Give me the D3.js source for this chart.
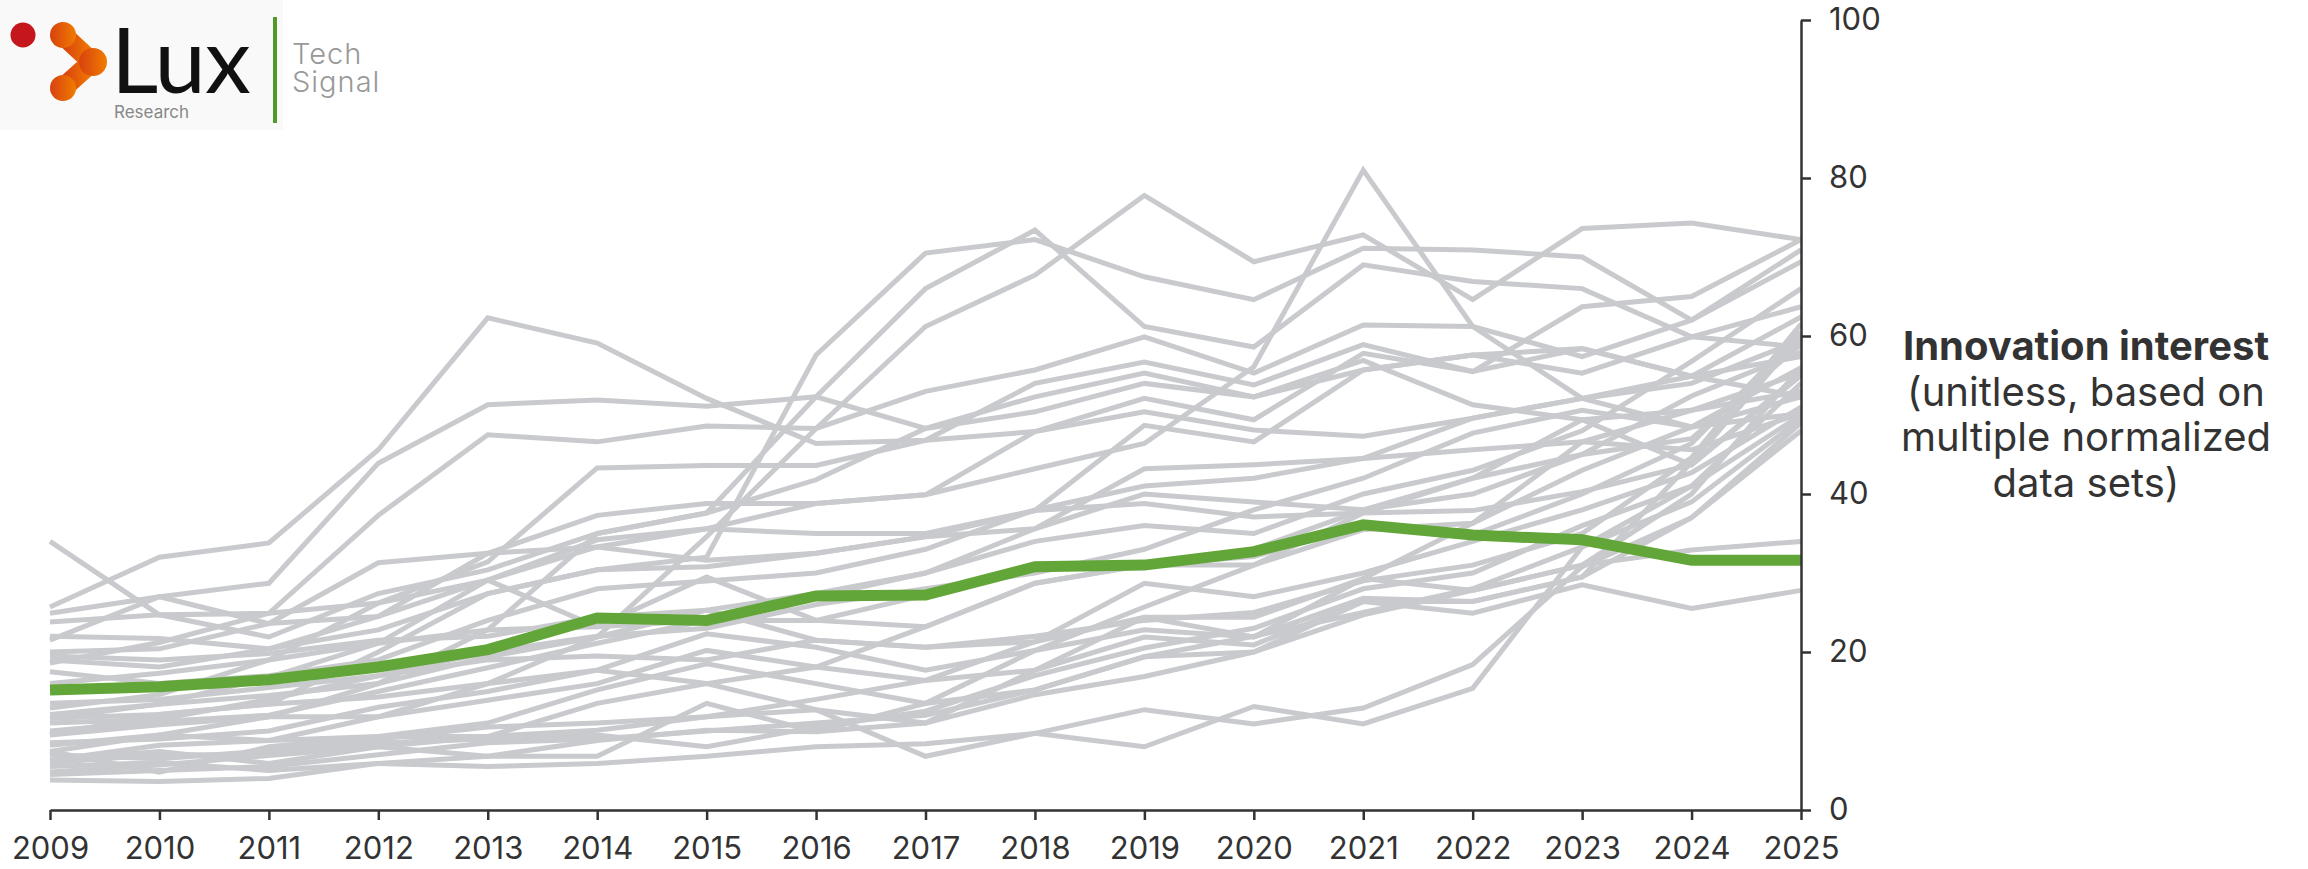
<!DOCTYPE html>
<html>
<head>
<meta charset="utf-8">
<script src="https://cdn.jsdelivr.net/npm/d3@7"></script>
<style>
    body { margin: 0; background: #fff; }
    svg text { font-family: Inter, "Noto Sans", sans-serif; fill: #333; }
</style>
</head>
<body>
<div id="chart"></div>
<script>

// years on the x axis
const years = [2009, 2010, 2011, 2012, 2013, 2014, 2015, 2016, 2017, 2018, 2019, 2020, 2021, 2022, 2023, 2024, 2025];

// highlighted tech (green)
const highlightValues = [15.2, 15.6, 16.5, 18.1, 20.3, 24.3, 24.0, 27.1, 27.2, 30.8, 31.0, 32.7, 36.1, 34.8, 34.2, 31.6, 31.6];

// all other techs (grey)
const otherSeries = [
    [25.7, 32.0, 33.8, 45.6, 62.3, 59.1, 52.1, 46.4, 46.8, 47.9, 52.1, 49.4, 57.8, 55.5, 58.4, 54.9, 62.4],
    [24.9, 27.0, 28.7, 43.9, 51.3, 51.9, 51.1, 52.3, 48.3, 52.3, 55.3, 52.3, 55.7, 57.6, 55.3, 59.9, 58.6],
    [18.6, 21.2, 24.9, 37.3, 47.5, 46.6, 48.6, 48.3, 53.0, 55.7, 59.9, 55.3, 61.4, 61.2, 57.4, 62.0, 70.9],
    [12.9, 14.6, 19.0, 26.2, 31.4, 43.3, 43.6, 43.6, 46.8, 54.0, 56.7, 53.8, 58.9, 55.5, 63.7, 65.0, 72.2],
    [9.5, 12.1, 13.4, 20.0, 27.4, 30.4, 32.0, 57.6, 70.5, 72.2, 67.5, 64.6, 71.1, 70.9, 70.0, 62.0, 69.4],
    [7.4, 9.5, 11.8, 16.0, 22.8, 35.0, 37.6, 52.3, 66.0, 73.4, 61.2, 58.6, 69.0, 66.9, 66.0, 59.9, 63.7],
    [6.3, 8.2, 8.8, 11.8, 16.0, 21.9, 34.6, 48.3, 61.2, 67.7, 77.8, 69.4, 72.8, 64.6, 73.6, 74.3, 72.2],
    [11.6, 13.4, 16.8, 21.1, 29.1, 33.3, 35.6, 38.8, 39.9, 43.2, 46.4, 56.1, 81.0, 61.2, 52.1, 48.5, 50.2],
    [20.0, 20.4, 23.6, 31.3, 32.5, 37.3, 38.8, 38.8, 39.9, 47.9, 50.4, 48.1, 47.3, 49.6, 52.1, 54.9, 57.4],
    [23.8, 24.7, 21.9, 27.4, 30.4, 35.0, 37.6, 41.8, 48.3, 50.4, 54.0, 52.3, 56.9, 51.3, 49.4, 50.6, 55.3],
    [34.0, 24.7, 24.9, 26.2, 29.1, 34.2, 35.6, 35.0, 35.0, 37.9, 48.7, 46.6, 55.7, 57.6, 58.4, 54.9, 52.3],
    [21.5, 27.0, 23.6, 24.5, 32.5, 33.3, 31.6, 32.5, 34.6, 35.6, 43.2, 43.7, 44.5, 45.6, 46.6, 45.6, 50.2],
    [19.0, 18.1, 20.4, 22.8, 27.4, 30.4, 30.8, 32.5, 34.6, 37.9, 38.8, 37.1, 37.6, 37.9, 40.3, 43.7, 55.3],
    [16.0, 17.3, 19.0, 21.1, 22.8, 23.2, 29.5, 24.0, 23.2, 28.7, 31.0, 31.0, 35.5, 36.3, 43.0, 48.5, 52.3],
    [12.1, 13.4, 14.5, 16.0, 19.4, 21.9, 25.3, 21.5, 20.6, 21.3, 24.4, 24.4, 29.3, 27.8, 31.0, 32.9, 34.0],
    [11.6, 12.1, 13.4, 14.3, 16.0, 17.7, 22.3, 20.6, 17.7, 20.2, 22.8, 21.9, 26.8, 26.4, 29.5, 37.0, 49.0],
    [9.5, 10.8, 11.8, 11.8, 13.9, 16.0, 20.2, 18.1, 16.4, 17.7, 21.9, 20.9, 26.4, 24.9, 28.5, 25.5, 27.8],
    [8.2, 9.5, 8.8, 9.3, 11.0, 15.2, 18.5, 16.0, 13.5, 15.2, 19.4, 20.0, 24.7, 27.8, 31.0, 40.0, 56.0],
    [4.8, 5.7, 6.9, 8.0, 9.3, 13.5, 16.0, 12.7, 6.8, 9.7, 8.0, 13.1, 10.9, 15.4, 33.3, 41.0, 50.0],
    [3.8, 3.6, 4.0, 5.9, 5.5, 5.9, 6.8, 8.0, 8.4, 9.7, 12.7, 10.9, 12.9, 18.4, 30.8, 37.0, 48.0],
    [6.3, 7.4, 5.9, 8.0, 6.8, 8.8, 10.1, 9.9, 11.0, 14.6, 16.9, 20.0, 26.4, 26.4, 29.5, 44.0, 60.0],
    [7.4, 4.8, 8.0, 9.3, 9.3, 10.1, 11.8, 12.7, 11.0, 17.7, 24.4, 21.9, 29.3, 36.3, 46.6, 50.6, 53.0],
    [5.5, 6.0, 5.0, 5.9, 6.8, 6.8, 13.5, 9.9, 13.5, 20.2, 25.7, 31.0, 37.6, 42.0, 49.4, 43.7, 55.0],
    [22.0, 21.7, 20.4, 24.5, 29.1, 23.2, 24.0, 27.0, 30.0, 35.6, 40.0, 39.0, 38.0, 42.0, 45.0, 52.4, 58.0],
    [10.0, 11.2, 12.0, 15.0, 18.0, 21.1, 24.0, 24.0, 27.2, 30.5, 31.0, 32.1, 36.0, 34.8, 40.0, 46.4, 60.5],
    [7.0, 6.5, 7.5, 9.0, 10.5, 11.0, 11.8, 14.0, 16.4, 21.3, 28.7, 27.0, 30.0, 34.0, 38.0, 42.7, 51.0],
    [4.5, 5.0, 5.5, 7.0, 8.5, 9.0, 10.0, 11.0, 12.0, 15.2, 19.4, 22.0, 25.0, 28.0, 33.3, 39.0, 49.5],
    [13.5, 14.0, 15.5, 17.0, 19.0, 19.5, 19.0, 21.5, 20.6, 22.0, 24.0, 25.0, 29.0, 31.0, 35.0, 44.6, 61.5],
    [8.5, 9.0, 10.0, 13.0, 15.0, 17.7, 16.0, 18.1, 23.2, 28.7, 31.0, 33.0, 38.0, 40.0, 45.0, 47.0, 59.0],
    [19.5, 19.0, 19.8, 21.5, 22.0, 24.4, 25.3, 27.4, 30.0, 34.0, 36.0, 35.0, 40.0, 43.0, 48.0, 56.8, 66.0],
    [11.0, 11.5, 14.0, 17.0, 20.0, 22.0, 23.0, 26.0, 28.0, 30.0, 33.0, 38.0, 42.0, 47.7, 50.6, 48.5, 56.0],
    [6.0, 7.0, 7.0, 8.5, 9.0, 9.5, 8.0, 10.5, 12.5, 17.0, 20.5, 23.0, 28.0, 30.0, 36.0, 41.0, 54.0],
    [17.5, 16.0, 17.0, 19.0, 24.0, 28.0, 29.0, 30.0, 33.0, 38.0, 41.0, 42.0, 44.5, 49.6, 52.1, 54.0, 59.5]
];

// y axis ticks
const yTicks = [0, 20, 40, 60, 80, 100];

// axis title, one entry per line
const titleLines = ["Innovation interest", "(unitless, based on", "multiple normalized", "data sets)"];

let width = 2308,
    height = 869;

let svg = d3.select("#chart").append("svg")
    .attr("width", width)
    .attr("height", height);

// scales
let x = d3.scalePoint()
    .domain(years)
    .range([50, 1801]);

let y = d3.scaleLinear()
    .domain([0, 100])
    .range([810, 20]);

let line = d3.line()
    .x((d, i) => x(years[i]))
    .y(d => y(d));

// grey lines
svg.append("g")
    .attr("class", "others")
    .selectAll("path")
    .data(otherSeries)
    .enter()
    .append("path")
    .attr("d", line)
    .attr("fill", "none")
    .attr("stroke", "#c9cacd")
    .attr("stroke-width", 5);

// green line on top
svg.append("path")
    .datum(highlightValues)
    .attr("d", line)
    .attr("fill", "none")
    .attr("stroke", "#62a639")
    .attr("stroke-width", 11);

// axes
svg.append("g")
    .attr("class", "x-axis")
    .attr("transform", "translate(0, 810)")
    .call(d3.axisBottom(x).tickSize(10).tickSizeOuter(0).tickPadding(17));

svg.append("g")
    .attr("class", "y-axis")
    .attr("transform", "translate(1801, 0)")
    .call(d3.axisRight(y).tickValues(yTicks).tickSize(10).tickSizeOuter(0).tickPadding(18));

svg.selectAll(".x-axis, .y-axis").selectAll("path, line")
    .attr("stroke", "#333")
    .attr("stroke-width", 2.5);

svg.selectAll(".x-axis text, .y-axis text")
    .attr("fill", "#333")
    .style("font-size", "31px")
    .style("font-family", "Inter, 'Noto Sans', sans-serif");

// axis title at the right
let title = svg.append("text")
    .attr("text-anchor", "middle")
    .style("font-size", "40px");

title.selectAll("tspan")
    .data(titleLines)
    .enter()
    .append("tspan")
    .attr("x", 2086)
    .attr("y", (d, i) => 360 + i * 45.5)
    .style("font-weight", (d, i) => i === 0 ? "700" : "400")
    .text(d => d);

// logo
let logo = svg.append("g").attr("class", "logo");

logo.append("rect")
    .attr("width", 283)
    .attr("height", 130)
    .attr("fill", "#f9f9f9");

let grad = svg.append("defs").append("linearGradient")
    .attr("id", "orange-grad")
    .attr("x1", "0%").attr("x2", "100%");
grad.append("stop").attr("offset", "0%").attr("stop-color", "#d8410f");
grad.append("stop").attr("offset", "100%").attr("stop-color", "#f07c00");

logo.append("circle")
    .attr("cx", 23).attr("cy", 35).attr("r", 12.5)
    .attr("fill", "#c4161c");

logo.append("path")
    .attr("d", "M63,35 L92,62 L63,88")
    .attr("fill", "none")
    .attr("stroke", "url(#orange-grad)")
    .attr("stroke-width", 20)
    .attr("stroke-linecap", "round")
    .attr("stroke-linejoin", "round");

logo.selectAll("circle.blob")
    .data([[63, 35, 13], [93, 62, 14], [63, 88, 13]])
    .enter()
    .append("circle")
    .attr("class", "blob")
    .attr("cx", d => d[0]).attr("cy", d => d[1]).attr("r", d => d[2])
    .attr("fill", "url(#orange-grad)");

logo.append("text")
    .attr("x", 111).attr("y", 93)
    .style("font-family", "Lato, sans-serif")
    .style("font-weight", "400")
    .style("font-size", "92px")
    .style("letter-spacing", "-1px")
    .style("fill", "#111")
    .text("Lux");

logo.append("text")
    .attr("x", 114).attr("y", 118)
    .style("font-size", "17px")
    .style("fill", "#888")
    .text("Research");

logo.append("rect")
    .attr("x", 273).attr("y", 17)
    .attr("width", 4).attr("height", 106)
    .attr("fill", "#4f9a2b");

logo.selectAll("text.signal")
    .data(["Tech", "Signal"])
    .enter()
    .append("text")
    .attr("class", "signal")
    .attr("x", 292)
    .attr("y", (d, i) => 64 + i * 28)
    .style("font-size", "29px")
    .style("font-weight", "300")
    .style("letter-spacing", "1px")
    .style("fill", "#999")
    .text(d => d);

</script>
</body>
</html>
